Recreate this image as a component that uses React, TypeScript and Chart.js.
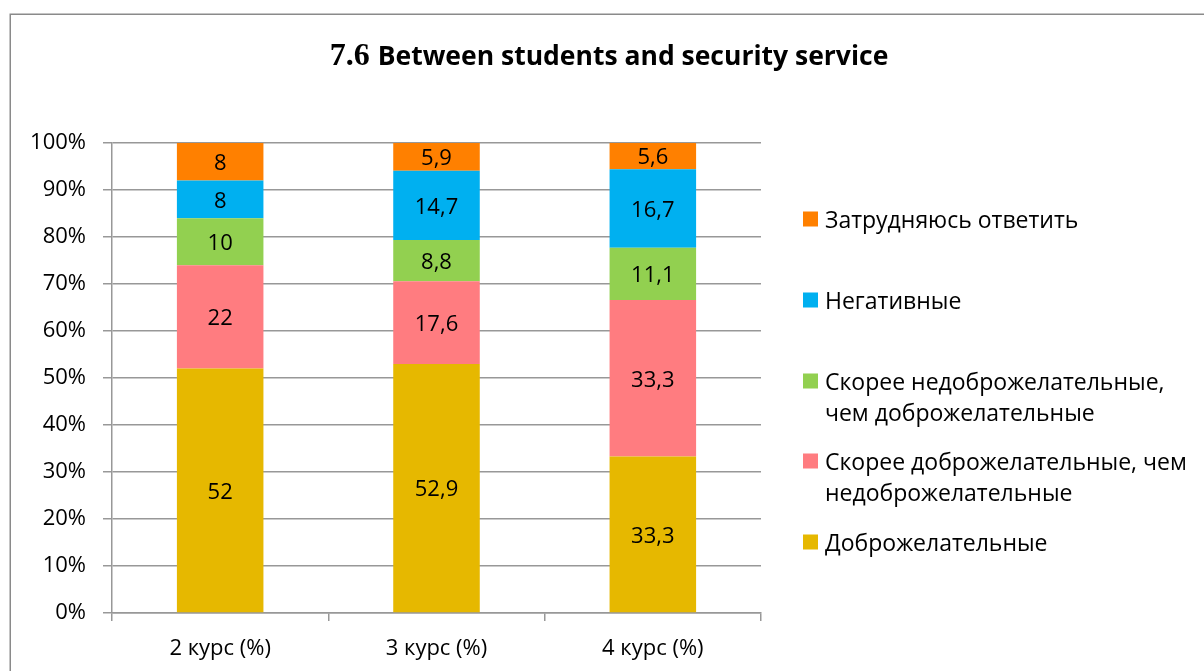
import React, { useEffect, useRef } from "react";
import { Chart, registerables } from "chart.js";

Chart.register(...registerables);

const categories = ["2 курс (%)", "3 курс (%)", "4 курс (%)"];
const seriesNames = [
  "Доброжелательные",
  "Скорее доброжелательные, чем недоброжелательные",
  "Скорее недоброжелательные, чем доброжелательные",
  "Негативные",
  "Затрудняюсь ответить",
];
const legendLines = [
  ["Доброжелательные"],
  ["Скорее доброжелательные, чем", "недоброжелательные"],
  ["Скорее недоброжелательные,", "чем доброжелательные"],
  ["Негативные"],
  ["Затрудняюсь ответить"],
];
const friendly = [52, 52.9, 33.3];
const ratherFriendly = [22, 17.6, 33.3];
const ratherUnfriendly = [10, 8.8, 11.1];
const negative = [8, 14.7, 16.7];
const hardToSay = [8, 5.9, 5.6];
const seriesValues = [friendly, ratherFriendly, ratherUnfriendly, negative, hardToSay];
const colors = ["#E6B800", "#FF7C80", "#92D050", "#00B0F0", "#FF8000"];
const yTicks = [0, 10, 20, 30, 40, 50, 60, 70, 80, 90, 100];
const titleNum = "7.6";
const titleText = "Between students and security service";

const FONT = "'Open Sans', 'DejaVu Sans', sans-serif";
const TXT = 22;
const LEG = 23;

const totals = categories.map((_, i) => seriesValues.reduce((s, arr) => s + arr[i], 0));

const fmt = (v: number) => String(v).replace(".", ",");

const framePlugin = {
  id: "frame",
  beforeDraw(chart: any) {
    const ctx = chart.ctx;
    ctx.save();
    ctx.fillStyle = "#ffffff";
    ctx.fillRect(0, 0, chart.width, chart.height);
    ctx.strokeStyle = "#8a8a8a";
    ctx.lineWidth = 1.5;
    ctx.strokeRect(10.25, 14.25, 1400, 900);
    ctx.restore();
  },
  afterDraw(chart: any) {
    const ctx = chart.ctx;
    ctx.save();
    // title
    ctx.fillStyle = "#000";
    ctx.textBaseline = "alphabetic";
    ctx.textAlign = "left";
    const f1 = "bold 32px 'Liberation Serif', serif";
    const f2 = `bold 26.5px ${FONT}`;
    ctx.font = f1;
    const w1 = ctx.measureText(titleNum + " ").width;
    ctx.font = f2;
    const w2 = ctx.measureText(titleText).width;
    const cx = 609;
    const x = cx - (w1 + w2) / 2;
    ctx.font = f1;
    ctx.fillText(titleNum + " ", x, 65);
    ctx.font = f2;
    ctx.fillText(titleText, x + w1, 65);

    // data labels
    ctx.font = `${TXT}px ${FONT}`;
    ctx.textAlign = "center";
    ctx.textBaseline = "middle";
    chart.data.datasets.forEach((ds: any, di: number) => {
      const meta = chart.getDatasetMeta(di);
      meta.data.forEach((el: any, i: number) => {
        const y = (el.y + el.base) / 2 + 2;
        ctx.fillText(fmt(seriesValues[di][i]), el.x, y);
      });
    });

    // legend (reverse order)
    ctx.font = `${LEG}px ${FONT}`;
    ctx.textAlign = "left";
    const tops = [219, 300, 381, 461, 542];
    const order = [4, 3, 2, 1, 0];
    order.forEach((si, k) => {
      const y0 = tops[k];
      ctx.fillStyle = colors[si];
      ctx.fillRect(803, y0 - 7.5, 15, 15);
      ctx.fillStyle = "#000";
      legendLines[si].forEach((ln, li) => {
        ctx.fillText(ln, 825, y0 + 2 + li * 31.5);
      });
    });
    ctx.restore();
  },
};

export default function App() {
  const ref = useRef<HTMLCanvasElement | null>(null);
  useEffect(() => {
    if (!ref.current) return;
    const chart = new Chart(ref.current, {
      type: "bar",
      data: {
        labels: categories,
        datasets: seriesValues.map((vals, si) => ({
          label: seriesNames[si],
          data: vals.map((v, i) => (v / totals[i]) * 100),
          backgroundColor: colors[si],
          borderWidth: 0,
          barPercentage: 0.4,
          categoryPercentage: 1,
        })),
      },
      options: {
        responsive: false,
        animation: false,
        layout: { padding: { left: 0, right: 443, top: 143, bottom: 0 } },
        plugins: { legend: { display: false }, tooltip: { enabled: false }, title: { display: false } },
        scales: {
          x: {
            stacked: true,
            grid: { display: true, drawOnChartArea: false, drawTicks: true, tickLength: 8, color: "#989898", lineWidth: 1.5, offset: true },
            border: { display: true, color: "#989898", width: 1.5 },
            ticks: { color: "#000", font: { family: FONT, size: TXT }, padding: 15 },
            afterFit: (s: any) => { s.height = 58; },
          },
          y: {
            stacked: true,
            min: 0,
            max: 100,
            afterBuildTicks: (s: any) => { s.ticks = yTicks.map((v) => ({ value: v })); },
            grid: { color: "#989898", lineWidth: 1.5, tickLength: 9, drawTicks: true },
            border: { display: true, color: "#989898", width: 1.5 },
            ticks: { color: "#000", font: { family: FONT, size: TXT }, padding: 17, callback: (v: any) => v + "%" },
            afterFit: (s: any) => { s.width = 112; },
          },
        },
      },
      plugins: [framePlugin],
    });
    return () => chart.destroy();
  }, []);
  return (
    <div style={{ position: "fixed", left: 0, top: 0, width: 1204, height: 671 }}>
      <canvas ref={ref} width={1204} height={671} style={{ width: 1204, height: 671, display: "block" }} />
    </div>
  );
}
